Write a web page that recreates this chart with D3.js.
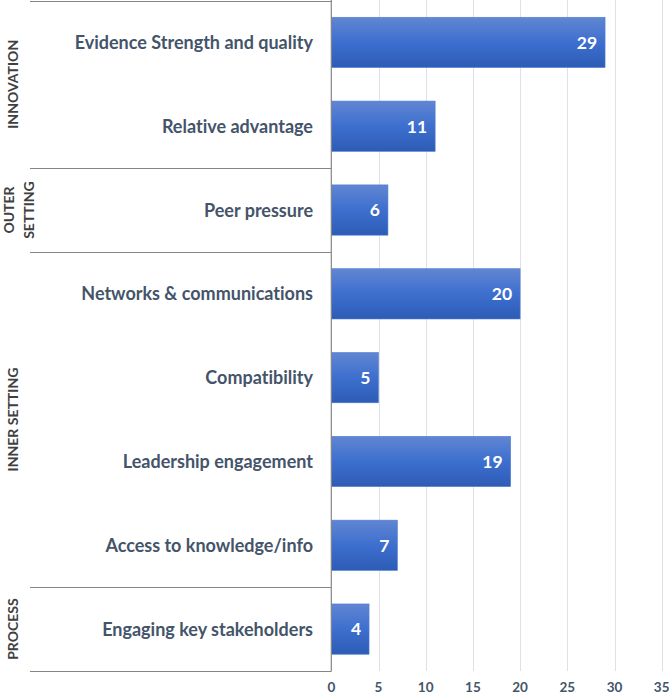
<!DOCTYPE html>
<html><head><meta charset="utf-8">
<script src="https://cdn.jsdelivr.net/npm/d3@7"></script>
<style>body{margin:0;background:#fff} text{font-variant-ligatures:none;font-feature-settings:"liga" 0}</style>
</head><body><svg id="c" width="669" height="696"></svg>
<script>
const categories = ["Evidence Strength and quality","Relative advantage","Peer pressure","Networks & communications","Compatibility","Leadership engagement","Access to knowledge/info","Engaging key stakeholders"];
const values = [29, 11, 6, 20, 5, 19, 7, 4];
const groups = [["INNOVATION"],["OUTER","SETTING"],["INNER SETTING"],["PROCESS"]];
const groupSpans = [[0,1],[2,2],[3,6],[7,7]];
const xTicks = [0,5,10,15,20,25,30,35];

(function(){
const svg = d3.select("#c");
const L = 331.3, R = 661.7, T = 0.5, B = 671;
const FONT = "Lato, 'Open Sans', sans-serif";
const x = d3.scaleLinear().domain([0,35]).range([L,R]);
const y = d3.scaleBand().domain(categories).range([T,B]).paddingInner(0.4).paddingOuter(0.2);
const rowH = (B-T)/categories.length;

const defs = svg.append("defs");
const g = defs.append("linearGradient").attr("id","bg").attr("x1",0).attr("y1",0).attr("x2",0).attr("y2",1);
g.append("stop").attr("offset","0%").attr("stop-color","#6186d2");
g.append("stop").attr("offset","50%").attr("stop-color","#3d6fcf");
g.append("stop").attr("offset","100%").attr("stop-color","#2d5cb5");

// gridlines
svg.append("g").selectAll("line").data(xTicks.slice(1)).join("line")
  .attr("x1",d=>Math.round(x(d))+0.5).attr("x2",d=>Math.round(x(d))+0.5)
  .attr("y1",0).attr("y2",B).attr("stroke","#dfe1e8").attr("stroke-width",1);

// tick labels
svg.append("g").selectAll("text").data(xTicks).join("text")
  .attr("x",d=>x(d)).attr("y",692).attr("text-anchor","middle")
  .attr("font-family",FONT).attr("font-weight","bold").attr("font-size",13.5)
  .attr("fill","#44546a").text(d=>d);

// bars
svg.append("g").selectAll("rect").data(values).join("rect")
  .attr("x",x(0)).attr("y",(d,i)=>y(categories[i]))
  .attr("width",d=>x(d)-x(0)).attr("height",y.bandwidth())
  .attr("fill","url(#bg)").attr("stroke","#4f7fd6").attr("stroke-width",0.6);

// value labels
svg.append("g").selectAll("text").data(values).join("text")
  .attr("x",d=>x(d)-8).attr("y",(d,i)=>y(categories[i])+y.bandwidth()/2)
  .attr("dy","0.36em").attr("text-anchor","end")
  .attr("font-family",FONT).attr("font-weight","bold").attr("font-size",17.5)
  .attr("fill","#fff").text(d=>d);

// category labels
svg.append("g").selectAll("text").data(categories).join("text")
  .attr("x",313).attr("y",d=>y(d)+y.bandwidth()/2).attr("dy","0.36em").attr("text-anchor","end")
  .attr("font-family",FONT).attr("font-weight","bold").attr("font-size",18)
  .attr("fill","#44546a").text(d=>d);

// group separators
const sepY = [T].concat(groupSpans.map(s=> T + (s[1]+1)*rowH));
sepY[sepY.length-1] = B;
svg.append("g").selectAll("line").data(sepY).join("line")
  .attr("x1",30).attr("x2",L).attr("y1",d=>Math.round(d)+0.5).attr("y2",d=>Math.round(d)+0.5)
  .attr("stroke","#858585").attr("stroke-width",1.2);
svg.append("line").attr("x1",L).attr("x2",L).attr("y1",0).attr("y2",B+0.5)
  .attr("stroke","#858585").attr("stroke-width",1.2);

// group labels
groups.forEach((lines,i)=>{
  const s = groupSpans[i];
  const cy = T + (s[0] + (s[1]-s[0]+1)/2)*rowH;
  const n = lines.length;
  lines.forEach((t,j)=>{
    const bx = n === 1 ? 17.5 : 13.5 + j*20;
    svg.append("text").attr("transform",`translate(${bx},${cy}) rotate(-90)`)
      .attr("text-anchor","middle")
      .attr("font-family",FONT).attr("font-weight","bold").attr("font-size",14)
      .attr("fill","#404040").text(t);
  });
});
})();
</script></body></html>
